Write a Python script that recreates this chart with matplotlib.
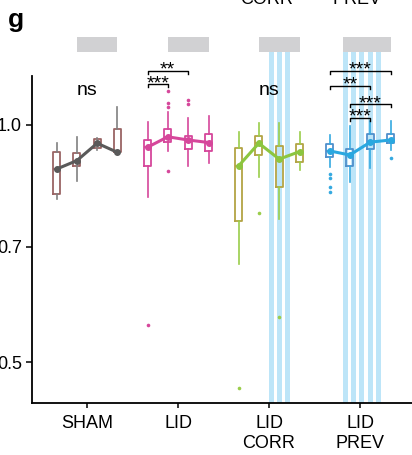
import matplotlib
matplotlib.use("Agg")
import matplotlib.pyplot as plt

plt.rcParams['font.family'] = ['Liberation Sans', 'DejaVu Sans']

categories = ["SHAM", "LID", "LID\nCORR", "LID\nPREV"]

# per-session box statistics (4 sessions per group)
medians = {
    "SHAM": [0.879, 0.901, 0.948, 0.923],
    "LID": [0.937, 0.966, 0.957, 0.950],
    "CORR": [0.887, 0.948, 0.905, 0.925],
    "PREV": [0.927, 0.916, 0.951, 0.957],
}
q1 = {
    "SHAM": [0.817, 0.886, 0.936, 0.923],
    "LID": [0.887, 0.952, 0.932, 0.928],
    "CORR": [0.755, 0.916, 0.835, 0.898],
    "PREV": [0.911, 0.888, 0.931, 0.948],
}
q3 = {
    "SHAM": [0.925, 0.920, 0.959, 0.988],
    "LID": [0.957, 0.988, 0.969, 0.974],
    "CORR": [0.935, 0.968, 0.941, 0.946],
    "PREV": [0.945, 0.932, 0.973, 0.975],
}
whislo = {
    "SHAM": [0.805, 0.849, 0.930, 0.923],
    "LID": [0.810, 0.927, 0.887, 0.894],
    "CORR": [0.666, 0.858, 0.759, 0.877],
    "PREV": [0.885, 0.846, 0.881, 0.930],
}
whishi = {
    "SHAM": [0.950, 0.966, 0.964, 1.053],
    "LID": [1.010, 1.040, 1.020, 1.028],
    "CORR": [0.979, 1.005, 1.007, 0.979],
    "PREV": [0.971, 0.997, 1.013, 1.013],
}
fliers = {
    "SHAM": [[], [], [], []],
    "LID": [[0.557], [1.106, 1.067, 1.053, 0.875], [1.076, 1.063], []],
    "CORR": [[0.463], [0.773], [0.570], []],
    "PREV": [[0.867, 0.856, 0.835, 0.821], [], [], [0.907]],
}

groups = ["SHAM", "LID", "CORR", "PREV"]
session_offsets = [-0.335, -0.112, 0.112, 0.335]

line_colors = {"SHAM": "#5a5a5a", "LID": "#d6479b", "CORR": "#8cc63f", "PREV": "#2aa8e0"}
box_colors = {"SHAM": "#9a6464", "LID": "#d6479b", "CORR": "#b3a444", "PREV": "#4f8fcb"}
whisker_colors = {"SHAM": "#808080", "LID": "#d6479b", "CORR": "#9acd4a", "PREV": "#35a9e0"}

# light-on stimulation stripes (x positions)
stripes = [3.03, 3.118, 3.203, 3.843, 3.925, 4.014, 4.110, 4.207]
stripe_width = 0.055

# grey bars above each group: (x start, x end)
grey_bars = [(0.89, 1.33), (1.89, 2.336), (2.89, 3.337), (3.813, 4.337)]
grey_bar_y = (1.239, 1.292)

# significance brackets: (x1, x2, y, label)
brackets = [
    (1.665, 2.11, 1.172, "**"),
    (1.665, 1.89, 1.126, "***"),
    (3.665, 4.34, 1.172, "***"),
    (3.665, 4.11, 1.122, "**"),
    (3.89, 4.34, 1.063, "***"),
    (3.89, 4.11, 1.022, "***"),
]
ns_labels = [(1.0, 1.105, "ns"), (3.0, 1.105, "ns")]

ylo, yhi = 0.4436, 1.320

fig = plt.figure(figsize=(4.12, 4.55), dpi=100)
ax = fig.add_axes([32 / 412, 52 / 455, 380 / 412, 373 / 455])
ax.set_yscale("log")
ax.set_xlim(0.3956, 4.571)
ax.set_ylim(ylo, yhi)

for xs in stripes:
    ax.axvspan(xs - stripe_width / 2, xs + stripe_width / 2, ymin=0, ymax=0.965,
               color="#bde5f8", lw=0, zorder=0)

for x0, x1 in grey_bars:
    ax.fill_between([x0, x1], grey_bar_y[0], grey_bar_y[1], color="#d1d1d3",
                    lw=0, zorder=1)

for gi, g in enumerate(groups):
    pos = [gi + 1 + o for o in session_offsets]
    stats = []
    for k in range(4):
        stats.append(dict(med=medians[g][k], q1=q1[g][k], q3=q3[g][k],
                          whislo=whislo[g][k], whishi=whishi[g][k],
                          fliers=fliers[g][k]))
    ax.bxp(stats, positions=pos, widths=0.078, showcaps=False, patch_artist=False,
           boxprops=dict(color=box_colors[g], lw=1.3),
           whiskerprops=dict(color=whisker_colors[g], lw=1.2),
           medianprops=dict(color=box_colors[g], lw=1.3),
           flierprops=dict(marker="o", markersize=2.6, markerfacecolor=whisker_colors[g],
                           markeredgecolor="none"),
           manage_ticks=False, zorder=3)
    ax.plot(pos, medians[g], color=line_colors[g], lw=2.2, marker="o",
            markersize=4, solid_capstyle="round", zorder=4)

for x1, x2, y, lab in brackets:
    dy = y * 0.991
    ax.plot([x1, x1, x2, x2], [dy, y, y, dy], color="black", lw=1.0, zorder=5,
            clip_on=False)
    ax.annotate(lab, xy=((x1 + x2) / 2, y), xytext=(0, -3), textcoords="offset points",
                ha="center", va="baseline", fontsize=14, zorder=6)

for x, y, lab in ns_labels:
    ax.text(x, y, lab, ha="center", va="center", fontsize=14)

ax.set_yticks([0.5, 0.7, 1.0])
ax.set_yticklabels(["0.5", "0.7", "1.0"])
ax.yaxis.set_minor_locator(matplotlib.ticker.NullLocator())
ax.set_xticks([1, 2, 3, 4])
ax.set_xticklabels(categories)

for s in ["top", "right"]:
    ax.spines[s].set_visible(False)
ax.spines["left"].set_bounds(ylo, 1.154)
ax.spines["left"].set_linewidth(1.3)
ax.spines["bottom"].set_linewidth(1.3)
ax.tick_params(axis="y", length=4.3, width=1.1, labelsize=13, pad=3)
ax.tick_params(axis="x", length=3.6, width=1.1, labelsize=13, pad=5)

fig.text(8 / 412, 1 - 27.5 / 455, "g", fontsize=19, fontweight="bold", va="baseline")
fig.text(267 / 412, 1 - 4 / 455, "CORR", fontsize=13, ha="center", va="baseline")
fig.text(357 / 412, 1 - 4 / 455, "PREV", fontsize=13, ha="center", va="baseline")

fig.savefig("out.png", dpi=100)
